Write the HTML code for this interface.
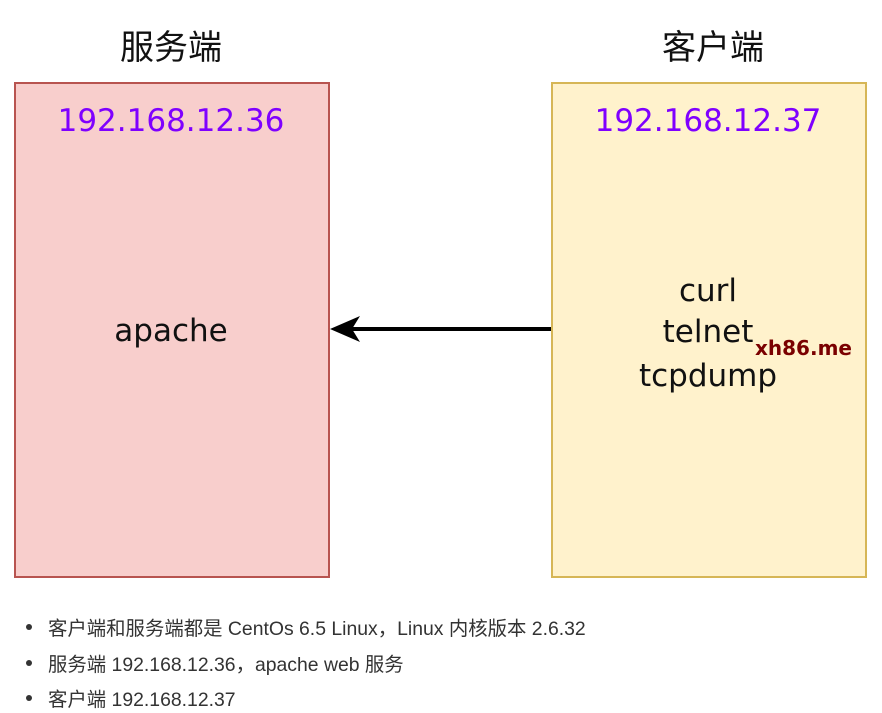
<!DOCTYPE html>
<html><head><meta charset="utf-8"><style>
body{margin:0;width:882px;height:713px;background:#fff;position:relative;overflow:hidden;font-family:"Liberation Sans","Noto Sans CJK SC",sans-serif}
.a{position:absolute;white-space:nowrap}
.t{font-size:34px;color:#111;transform:translateX(-50%)}
.box{position:absolute;box-sizing:border-box;border:2px solid}
.ip{font-family:"Comic Sans MS","DejaVu Sans",sans-serif;font-size:31px;color:#7f00ff;transform:translateX(-50%)}
.h{font-family:"Comic Sans MS","DejaVu Sans",sans-serif;font-size:31px;color:#111;transform:translateX(-50%)}
.li{font-size:19.4px;color:#333;left:48px}
.dot{position:absolute;left:26px;width:6px;height:6px;border-radius:50%;background:#333}
</style></head><body>
<div class="a t" style="left:171px;top:20px">服务端</div>
<div class="a t" style="left:713px;top:20px">客户端</div>
<div class="box" style="left:14px;top:82px;width:316px;height:496px;background:#f8cecc;border-color:#b85450"></div>
<div class="box" style="left:551px;top:82px;width:316px;height:496px;background:#fff2cc;border-color:#d6b656"></div>
<div class="a ip" style="left:171px;top:103px">192.168.12.36</div>
<div class="a ip" style="left:708px;top:103px">192.168.12.37</div>
<div class="a h" style="left:171px;top:313px">apache</div>
<div class="a h" style="left:708px;top:273px">curl</div>
<div class="a h" style="left:708px;top:314px">telnet</div>
<div class="a h" style="left:708px;top:358px">tcpdump</div>
<svg class="a" style="left:0;top:0" width="882" height="713">
<line x1="551" y1="329" x2="345" y2="329" stroke="#000" stroke-width="4"/>
<path d="M330 329 L360 316 L352 329 L360 342 Z" fill="#000"/>
</svg>
<div class="a" style="left:755px;top:336px;font-family:'DejaVu Sans',sans-serif;font-weight:bold;font-size:20px;color:#7a0000">xh86.me</div>
<div class="dot" style="top:624px"></div><div class="a li" style="top:612px">客户端和服务端都是 CentOs 6.5 Linux，Linux 内核版本 2.6.32</div>
<div class="dot" style="top:660px"></div><div class="a li" style="top:648px">服务端 192.168.12.36，apache web 服务</div>
<div class="dot" style="top:695px"></div><div class="a li" style="top:683px">客户端 192.168.12.37</div>
</body></html>
